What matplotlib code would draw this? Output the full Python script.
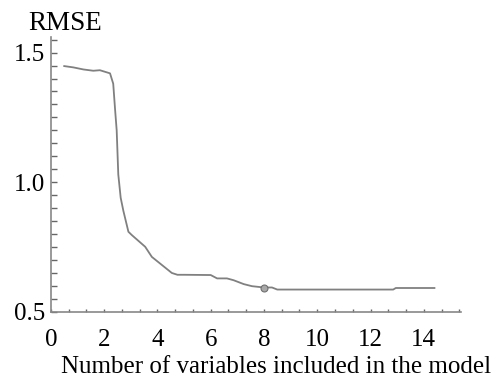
import matplotlib.pyplot as plt
from matplotlib.ticker import MultipleLocator

# values
n_vars = [0.5, 0.84, 1.22, 1.59, 1.84, 2.22, 2.34, 2.41, 2.47, 2.53, 2.62, 2.72,
          2.91, 3.04, 3.54, 3.79, 4.54, 4.75, 5.0, 6.0, 6.24, 6.61, 6.86, 7.24,
          7.55, 8.0, 8.3, 8.5, 12.85, 12.95, 14.4]
rmse = [1.448, 1.443, 1.435, 1.43, 1.432, 1.42, 1.38, 1.28, 1.2, 1.03, 0.94, 0.89,
        0.809, 0.796, 0.751, 0.712, 0.65, 0.643, 0.643, 0.642, 0.629, 0.629, 0.622, 0.607,
        0.599, 0.594, 0.594, 0.586, 0.586, 0.592, 0.592]
best_n = [8.0]
best_rmse = [0.592]
x_ticks = [0, 2, 4, 6, 8, 10, 12, 14]
y_ticks = [0.5, 1.0, 1.5]

plt.rcParams['font.family'] = ['Liberation Serif', 'DejaVu Serif']

fig = plt.figure(figsize=(4.99, 3.78), dpi=100)
ax = fig.add_axes([0.102, 0.175, 0.822, 0.727])

ax.plot(n_vars, rmse, color='#808080', linewidth=1.3)
ax.plot(best_n, best_rmse, 'o', markersize=5, markerfacecolor='#a8a8a8',
        markeredgecolor='#707070', markeredgewidth=0.8)

ax.set_xlim(0, 15.4)
ax.set_ylim(0.5, 1.56)
ax.set_xticks(x_ticks)
ax.set_yticks(y_ticks)
ax.set_yticklabels(['0.5', '1.0', '1.5'])
ax.xaxis.set_minor_locator(MultipleLocator(2 / 3))
ax.yaxis.set_minor_locator(MultipleLocator(0.05))

for s in ['top', 'right']:
    ax.spines[s].set_visible(False)
for s in ['left', 'bottom']:
    ax.spines[s].set_color('#888888')
    ax.spines[s].set_linewidth(1.2)

ax.tick_params(axis='both', which='both', direction='in', color='#666666',
               labelsize=18, width=1)
ax.tick_params(axis='x', which='both', length=2.5, pad=12)
ax.tick_params(axis='y', which='both', length=4, pad=4)

ax.set_xlabel('Number of variables included in the model', fontsize=18,
              labelpad=4, x=0.55)
ax.text(0.035, 1.565, 'RMSE', fontsize=19.5, ha='center', va='bottom',
        transform=ax.get_yaxis_transform())

fig.savefig('out.png', dpi=100)
